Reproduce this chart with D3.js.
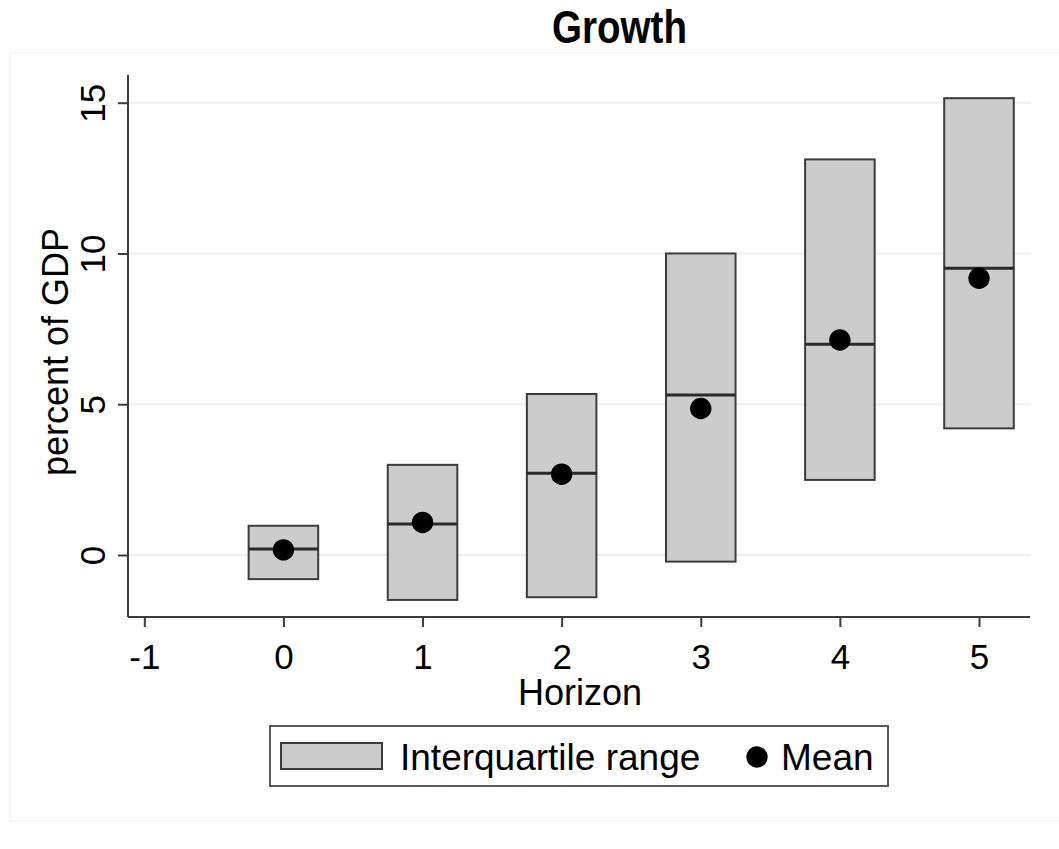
<!doctype html>
<html>
    <head>
        <meta charset="utf-8" />
        <title>Growth</title>
        <script src="https://cdn.jsdelivr.net/npm/d3@7"></script>
        <style type="text/css">
            html, body { margin: 0; padding: 0; background: #fff; overflow: hidden; }
            text { font-family: "Liberation Sans", Arial, sans-serif; }
        </style>
    </head>
    <body>
        <script>
            // data
            const horizons = [0, 1, 2, 3, 4, 5];
            const p25 = [-0.80, -1.49, -1.40, -0.22, 2.49, 4.20];
            const p75 = [0.97, 2.99, 5.34, 10.00, 13.12, 15.15];
            const median = [0.20, 1.03, 2.71, 5.31, 6.99, 9.51];
            const mean = [0.17, 1.08, 2.68, 4.86, 7.13, 9.18];
            const xTicks = [-1, 0, 1, 2, 3, 4, 5];
            const yTicks = [0, 5, 10, 15];
            const legendLabels = ["Interquartile range", "Mean"];

            const width = 1059, height = 849;
            const plotL = 128, plotR = 1030, plotT = 75, plotB = 617;

            const x = d3.scaleLinear().domain([-1, 5]).range([144.3, 979]);
            const y = d3.scaleLinear().domain([0, 15]).range([555, 102.7]);
            const halfW = 0.25;

            const svg = d3.select("body").append("svg")
                .attr("width", width)
                .attr("height", height);

            // faint outer frame of the graph region
            svg.append("rect")
                .attr("x", 10).attr("y", 53)
                .attr("width", 1060).attr("height", 768)
                .attr("fill", "none")
                .attr("stroke", "#f3f5f5")
                .attr("stroke-width", 1.5);

            // title
            svg.append("text")
                .attr("x", 619.5).attr("y", 43)
                .attr("text-anchor", "middle")
                .attr("font-family", "'Liberation Sans Narrow', 'Arial Narrow', 'Liberation Sans', Arial, sans-serif")
                .attr("font-weight", "bold")
                .attr("font-size", 47)
                .attr("textLength", 135)
                .attr("lengthAdjust", "spacingAndGlyphs")
                .text("Growth");

            // gridlines
            svg.append("g")
                .selectAll("line")
                .data(yTicks)
                .join("line")
                .attr("x1", plotL).attr("x2", 1031)
                .attr("y1", d => y(d)).attr("y2", d => y(d))
                .attr("stroke", "#eaf1f2")
                .attr("stroke-width", 2);

            // boxes
            const boxes = svg.append("g");
            boxes.selectAll("rect")
                .data(horizons)
                .join("rect")
                .attr("x", d => x(d - halfW))
                .attr("y", (d, i) => y(p75[i]))
                .attr("width", d => x(d + halfW) - x(d - halfW))
                .attr("height", (d, i) => y(p25[i]) - y(p75[i]))
                .attr("fill", "#cccccc")
                .attr("stroke", "#3c3c3c")
                .attr("stroke-width", 2);

            boxes.selectAll("line")
                .data(horizons)
                .join("line")
                .attr("x1", d => x(d - halfW))
                .attr("x2", d => x(d + halfW))
                .attr("y1", (d, i) => y(median[i]))
                .attr("y2", (d, i) => y(median[i]))
                .attr("stroke", "#2a2a2a")
                .attr("stroke-width", 3);

            svg.append("g")
                .selectAll("circle")
                .data(horizons)
                .join("circle")
                .attr("cx", d => x(d))
                .attr("cy", (d, i) => y(mean[i]))
                .attr("r", 10.7)
                .attr("fill", "#000");

            // axes
            const xAxis = svg.append("g")
                .attr("transform", `translate(0,${plotB})`)
                .call(d3.axisBottom(x).tickValues(xTicks).tickSize(10).tickPadding(17).tickSizeOuter(0).tickFormat(d => String(d)));
            xAxis.select(".domain").attr("d", `M${plotL},0H${plotR}`);
            const yAxis = svg.append("g")
                .attr("transform", `translate(${plotL},0)`)
                .call(d3.axisLeft(y).tickValues(yTicks).tickSize(10).tickSizeOuter(0).tickFormat(d => String(d)));
            yAxis.select(".domain").attr("d", `M0,${plotT}V${plotB}`);
            yAxis.selectAll(".tick text")
                .attr("x", 0).attr("dy", null)
                .attr("text-anchor", "middle")
                .attr("transform", "translate(-23,0) rotate(-90)");

            svg.selectAll(".domain, .tick line")
                .attr("stroke", "#3c3c3c")
                .attr("stroke-width", 2);
            svg.selectAll(".tick text")
                .attr("font-family", "'Liberation Sans', Arial, sans-serif")
                .attr("font-size", 35)
                .attr("fill", "#000");

            // axis titles
            svg.append("text")
                .attr("x", 580).attr("y", 705)
                .attr("text-anchor", "middle")
                .attr("font-size", 36)
                .text("Horizon");
            svg.append("text")
                .attr("transform", "translate(68,352) rotate(-90)")
                .attr("text-anchor", "middle")
                .attr("font-size", 36)
                .text("percent of GDP");

            // legend
            const legend = svg.append("g");
            legend.append("rect")
                .attr("x", 270).attr("y", 726)
                .attr("width", 618).attr("height", 60)
                .attr("fill", "#fff")
                .attr("stroke", "#5a5a5a")
                .attr("stroke-width", 2);
            legend.append("rect")
                .attr("x", 281).attr("y", 743)
                .attr("width", 101).attr("height", 26)
                .attr("fill", "#cccccc")
                .attr("stroke", "#3c3c3c")
                .attr("stroke-width", 2);
            legend.append("text")
                .attr("x", 400).attr("y", 770)
                .attr("font-size", 37)
                .text(legendLabels[0]);
            legend.append("circle")
                .attr("cx", 757).attr("cy", 757)
                .attr("r", 10.7)
                .attr("fill", "#000");
            legend.append("text")
                .attr("x", 781).attr("y", 770)
                .attr("font-size", 37)
                .text(legendLabels[1]);
        </script>
    </body>
</html>
